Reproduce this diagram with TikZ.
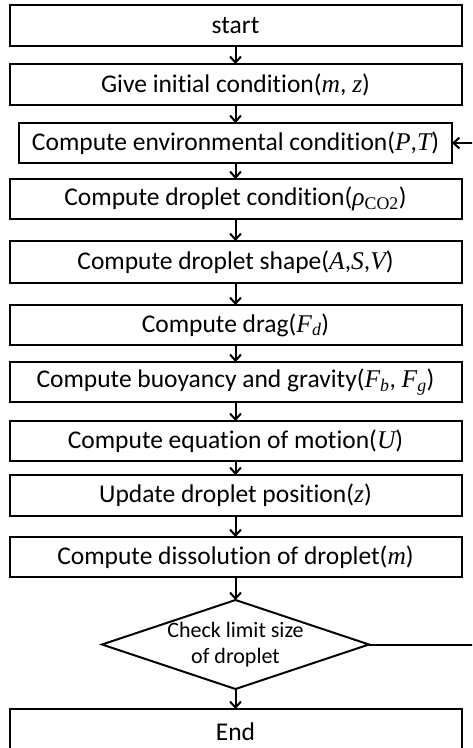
\documentclass[tikz,border=0pt]{standalone}
\usepackage{fontspec}
\setmainfont{Carlito}[Ligatures=NoCommon]
\newfontfamily\tnr{Liberation Serif}
\usetikzlibrary{shapes.geometric,arrows.meta,positioning}
% variables in the boxes are set in Times-like italics
\newcommand{\mv}[1]{{\tnr\itshape #1}}
\newcommand{\sbs}[1]{\textsubscript{#1}}

\begin{document}
\begin{tikzpicture}[x=1pt, y=-1pt, node distance=18pt,
  every node/.style={outer sep=0pt},
  stepbox/.style={draw, line width=2pt, minimum width=452pt,
    minimum height=40pt, inner sep=0pt, font=\fontsize{25.5}{30}\selectfont},
  testbox/.style={draw, diamond, aspect=3, line width=2pt,
    minimum width=267pt, minimum height=89pt, inner sep=-4pt,
    align=center, font=\fontsize{22}{26}\selectfont},
  flow/.style={-{Straight Barb[length=6pt,width=11pt]}, line width=2pt}]

\clip (0,0) rectangle (472,748);

\node[stepbox, minimum height=41pt] (start) at (235.5,25.5) {start};
\node[stepbox, minimum height=41pt, below=18pt of start] (init)
  {Give initial condition(\mv{m}, \mv{z})};
\node[stepbox, minimum width=433pt, below=18pt of init] (env)
  {Compute environmental condition(\mv{P},\mv{T})};
\node[stepbox, below=16pt of env] (cond)
  {Compute droplet condition(\mv{ρ}\sbs{\tnr CO2})};
\node[stepbox, minimum height=42pt, below=22pt of cond] (shape)
  {Compute droplet shape(\mv{A},\mv{S},\mv{V})};
\node[stepbox, below=22pt of shape] (drag)
  {Compute drag(\mv{F}\sbs{\mv{d}})};
\node[stepbox, below=17pt of drag] (force)
  {Compute buoyancy and gravity(\mv{F}\sbs{\mv{b}}, \mv{F}\sbs{\mv{g}})};
\node[stepbox, below=19pt of force] (motion)
  {Compute equation of motion(\mv{U})};
\node[stepbox, minimum height=41pt, below=14pt of motion] (update)
  {Update droplet position(\mv{z})};
\node[stepbox, below=21pt of update] (dissolve)
  {Compute dissolution of droplet(\mv{m})};
\node[testbox, below=23pt of dissolve] (check)
  {Check limit size\\of droplet};
\node[stepbox, minimum height=45pt, below=20pt of check] (finish) {End};

% main chain
\foreach \a/\b in {start/init, init/env, env/cond, cond/shape, shape/drag,
    drag/force, force/motion, motion/update, update/dissolve,
    dissolve/check, check/finish}
  \draw[flow] (\a) -- (\b);

% loop back while the droplet is still large enough
\coordinate (rim) at (476,0);
\draw[flow] (check.east) -- (check.east -| rim) |- (env.east);

\end{tikzpicture}
\end{document}
